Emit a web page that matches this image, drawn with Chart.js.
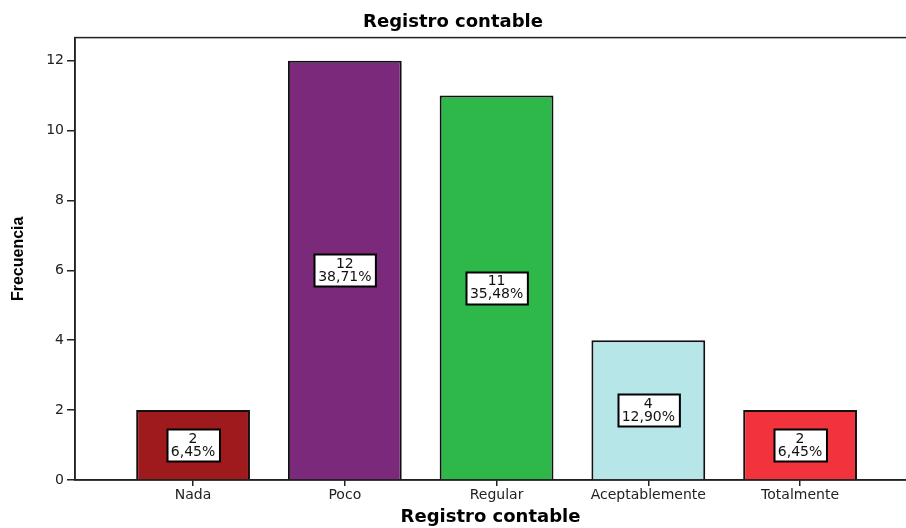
<!DOCTYPE html>
<html>
<head>
<meta charset="utf-8">
<script src="https://cdn.jsdelivr.net/npm/chart.js@4.4.1/dist/chart.umd.min.js"></script>
<style>
  html, body { margin: 0; padding: 0; background: #fff; }
  #wrap { width: 906px; height: 528px; }
</style>
</head>
<body>
<div id="wrap"><canvas id="chartBar"></canvas></div>
<script>
'use strict'

var categories = ['Nada', 'Poco', 'Regular', 'Aceptablemente', 'Totalmente'];
var counts = [2, 12, 11, 4, 2];
var barColors = ['#9E1A1C', '#7B2A7B', '#2EB84A', '#B6E6E8', '#F0333C'];
var yTicks = [0, 2, 4, 6, 8, 10, 12];

var total = counts.reduce(function(a, b) { return a + b; }, 0);
var font = "'DejaVu Sans', Arial, sans-serif";

// white boxes with count and percent in the middle of each bar
var boxLabels = {
    id: 'boxLabels',
    afterDatasetsDraw: function(chart) {
        var ctx = chart.ctx;
        var yScale = chart.scales.y;
        var meta = chart.getDatasetMeta(0);
        ctx.save();
        ctx.font = '14px ' + font;
        ctx.textAlign = 'center';
        ctx.textBaseline = 'middle';
        meta.data.forEach(function(el, i) {
            var line1 = String(counts[i]);
            var line2 = (counts[i] / total * 100).toFixed(2).replace('.', ',') + '%';
            var w = Math.max(ctx.measureText(line1).width, ctx.measureText(line2).width) + 8;
            var h = 32;
            var cy = yScale.getPixelForValue(counts[i] / 2);
            var x0 = Math.round(el.x - w / 2) + 0.5;
            var y0 = Math.round(cy - h / 2) + 0.5;
            ctx.fillStyle = '#ffffff';
            ctx.fillRect(x0, y0, w, h);
            ctx.strokeStyle = '#000';
            ctx.lineWidth = 2;
            ctx.strokeRect(x0, y0, w, h);
            ctx.fillStyle = '#111';
            ctx.fillText(line1, el.x, cy - 6);
            ctx.fillText(line2, el.x, cy + 7);
        });
        ctx.restore();
    }
};

// frame round the plot area
var frame = {
    id: 'frame',
    beforeDatasetsDraw: function(chart) {
        var a = chart.chartArea;
        var ctx = chart.ctx;
        ctx.save();
        ctx.strokeStyle = '#222';
        ctx.lineWidth = 1.5;
        ctx.strokeRect(a.left, a.top, a.right - a.left + 2, a.bottom - a.top);
        ctx.restore();
    }
};

var ctxBar = document.getElementById('chartBar');
var myBarChart = new Chart(ctxBar, {
    type: 'bar',
    data: {
        datasets: [{
            data: counts.map(function(c, i) { return { x: i, y: c }; }),
            backgroundColor: barColors,
            borderColor: '#111',
            borderWidth: 2,
            barPercentage: 0.75,
            categoryPercentage: 1
        }]
    },
    plugins: [frame, boxLabels],
    options: {
        responsive: true,
        maintainAspectRatio: false,
        animation: false,
        layout: { padding: 0 },
        plugins: {
            legend: { display: false },
            tooltip: { enabled: false },
            title: {
                display: true,
                text: 'Registro contable',
                color: '#000',
                font: { family: font, size: 18, weight: 'bold', lineHeight: 1.2 },
                padding: { top: 12, bottom: 4 }
            }
        },
        scales: {
            x: {
                type: 'linear',
                offset: false,
                min: -0.778,
                max: 4.698,
                afterBuildTicks: function(scale) {
                    scale.ticks = categories.map(function(_, i) { return { value: i }; });
                },
                afterFit: function(scale) { scale.height = 48; },
                ticks: {
                    color: '#222',
                    font: { family: font, size: 14 },
                    padding: 1,
                    callback: function(v) { return categories[v]; }
                },
                grid: { display: true, offset: false, drawOnChartArea: false, tickLength: 6, color: '#222', lineWidth: 1.5 },
                border: { display: true, color: '#222', width: 1.5 },
                title: {
                    display: true,
                    text: 'Registro contable',
                    color: '#000',
                    font: { family: font, size: 18, weight: 'bold' },
                    padding: { top: 2, bottom: 0 }
                }
            },
            y: {
                min: 0,
                max: 12.66,
                afterBuildTicks: function(scale) {
                    scale.ticks = yTicks.map(function(v) { return { value: v }; });
                },
                afterFit: function(scale) { scale.width = 75; },
                ticks: {
                    color: '#222',
                    font: { family: font, size: 14 },
                    padding: 3
                },
                grid: { display: true, drawOnChartArea: false, tickLength: 8, color: '#222', lineWidth: 1.5 },
                border: { display: true, color: '#222', width: 1.5 },
                title: {
                    display: true,
                    text: 'Frecuencia',
                    color: '#000',
                    font: { family: "'Liberation Sans', Arial, sans-serif", size: 16, weight: 'bold' },
                    padding: { top: 9, bottom: 0 }
                }
            }
        }
    }
});
</script>
</body>
</html>
